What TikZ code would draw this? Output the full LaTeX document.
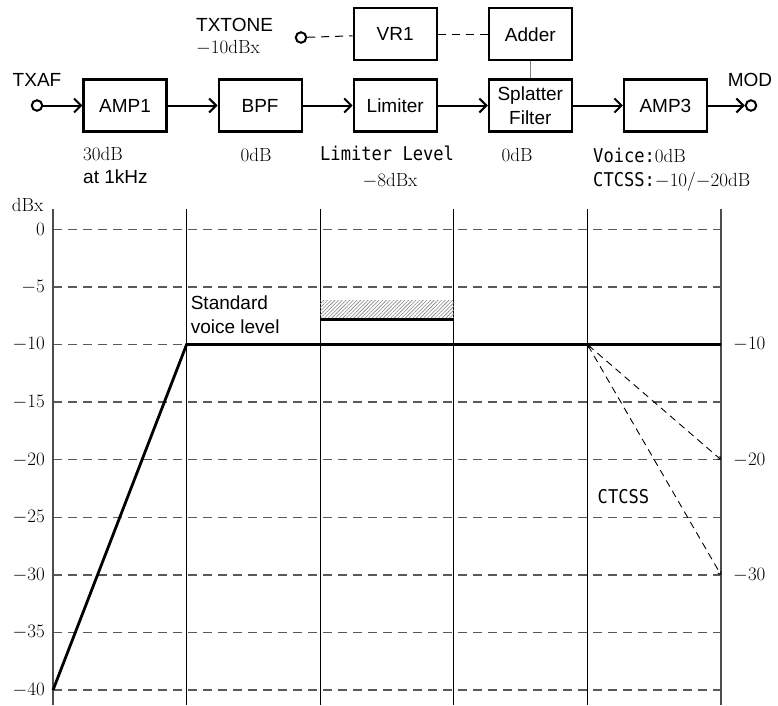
\RequirePackage{fix-cm}
\documentclass[tikz,border=0pt]{standalone}
\usepackage{fontspec}
\usepackage{tikz}
\usetikzlibrary{arrows.meta,positioning,patterns.meta}
\newfontfamily\arialfont{Liberation Sans}
\newfontfamily\gothicfont[FakeStretch=0.9]{DejaVu Sans Mono}
\newcommand{\srf}[1]{{\rmfamily\fontsize{19}{22}\selectfont #1}}
\tikzset{
  block/.style={draw, line width=2.1pt, minimum width=83pt, minimum height=52pt,
    inner sep=2pt, align=center, font=\arialfont\fontsize{19}{24}\selectfont},
  port/.style={draw, circle, line width=2pt, minimum size=10.5pt, inner sep=0pt},
  conn/.style={line width=2pt, ->},
  sanslbl/.style={inner sep=0pt, font=\arialfont\fontsize{19}{24}\selectfont},
  seriflbl/.style={inner sep=0pt, font=\fontsize{19}{22}\selectfont},
  gothlbl/.style={inner sep=0pt, font=\gothicfont\fontsize{19}{22}\selectfont},
  gridline/.style={gray!70!black, line width=1.4pt, dash pattern=on 9pt off 6pt},
  signal/.style={line width=2.8pt},
  ctcss/.style={line width=0.9pt, dash pattern=on 7pt off 5pt,
    {Straight Barb[length=2.5pt,width=4pt]}-{Straight Barb[length=2.5pt,width=4pt]}},
}

\begin{document}
\begin{tikzpicture}[x=1pt, y=-1pt, >={Straight Barb[length=7pt,width=14pt]}]
    \useasboundingbox (0,0) rectangle (778,705);

    % transmit chain
    \node[block] (amp1) at (125,105.5) {AMP1};
    \node[block, right=50pt of amp1] (bpf) {BPF};
    \node[block, right=50pt of bpf] (lim) {Limiter};
    \node[block, right=50pt of lim] (splat) {Splatter\\Filter};
    \node[block, right=50pt of splat] (amp3) {AMP3};
    \node[block, above=17pt of lim] (vr) {VR1};
    \node[block, above=17pt of splat] (adder) {Adder};

    \node[port] (txaf) at (37,105.5) {};
    \node[port] (mod) at (751,105.5) {};
    \node[port] (tone) at (301,37.5) {};

    \draw[conn] (txaf) -- (amp1);
    \draw[conn] (amp1) -- (bpf);
    \draw[conn] (bpf) -- (lim);
    \draw[conn] (lim) -- (splat);
    \draw[conn] (splat) -- (amp3);
    \draw[conn] (amp3) -- (mod);
    \draw[line width=1pt, dash pattern=on 8pt off 6pt] (tone) -- (vr);
    \draw[line width=1pt, dash pattern=on 8pt off 6pt] (vr) -- (adder);
    \draw[line width=0.8pt, gray] (adder) -- (splat);

    \node[sanslbl] (txaflbl) at (37,80) {TXAF};
    \node[sanslbl] (modlbl) at (750,80) {MOD};
    \node[sanslbl, anchor=west] (tonelbl) at (196,25) {TXTONE};
    \node[seriflbl, anchor=west] (tonelvl) at (196,48) {$-$10dBx};
    \node[seriflbl, anchor=west] (gain1) at (83,154) {30dB};
    \node[sanslbl, anchor=west] (freq1) at (83,177) {at 1kHz};
    \node[seriflbl] (gain2) at (256,155) {0dB};
    \node[gothlbl, anchor=west] (limlbl) at (320,153) {Limiter Level};
    \node[seriflbl] (limlvl) at (390,181) {$-$8dBx};
    \node[seriflbl] (gain4) at (517,155) {0dB};
    \node[gothlbl, anchor=west] (gain5) at (593,155) {Voice:\srf{0dB}};
    \node[gothlbl, anchor=west] (gain6) at (593,182) {CTCSS:\srf{$-$10/$-$20dB}};

    % level chart
    \begin{scope}[shift={(53,229.3)}, x=133.6pt, y=11.52pt]
        \node[seriflbl] (unit) at (-0.19,2.1) {dBx};
        \foreach \db in {0,-5,...,-40} {
            \draw[gridline] (0,\db) -- (5,\db);
            \node[seriflbl, anchor=east] (yl\db) at (-0.06,\db) {$\db$};
        }
        \foreach \i in {1,...,4}
            \draw[line width=1.2pt] (\i,1.75) -- (\i,-41.3);
        \draw[line width=1.5pt, gray!60!black] (0,1.75) -- (0,-41.3);
        \draw[line width=1.5pt, gray!60!black] (5,1.75) -- (5,-41.3);

        \fill[pattern={Lines[angle=45, distance=2.6pt, line width=0.6pt]}, pattern color=gray]
            (2,-6.15) rectangle (3,-7.8);
        \draw[signal] (0,-40) -- (1,-10) -- (5,-10);
        \draw[signal] (2,-7.8) -- (3,-7.8);

        \coordinate (split) at (4,-10);
        \coordinate (ct20) at (5,-20);
        \coordinate (ct30) at (5,-30);
        \draw[ctcss] (split) -- (ct20);
        \draw[ctcss] (split) -- (ct30);
        \node[gothlbl] (ctlbl) at (4.27,-23.2) {CTCSS};

        \node[seriflbl, anchor=west] (r10) at (5.09,-10) {$-10$};
        \node[seriflbl, anchor=west] (r20) at (5.09,-20) {$-20$};
        \node[seriflbl, anchor=west] (r30) at (5.09,-30) {$-30$};
        \node[sanslbl, anchor=west, align=left] (stdlbl) at (1.03,-7.45)
            {Standard\\voice level};
    \end{scope}
\end{tikzpicture}
\end{document}
